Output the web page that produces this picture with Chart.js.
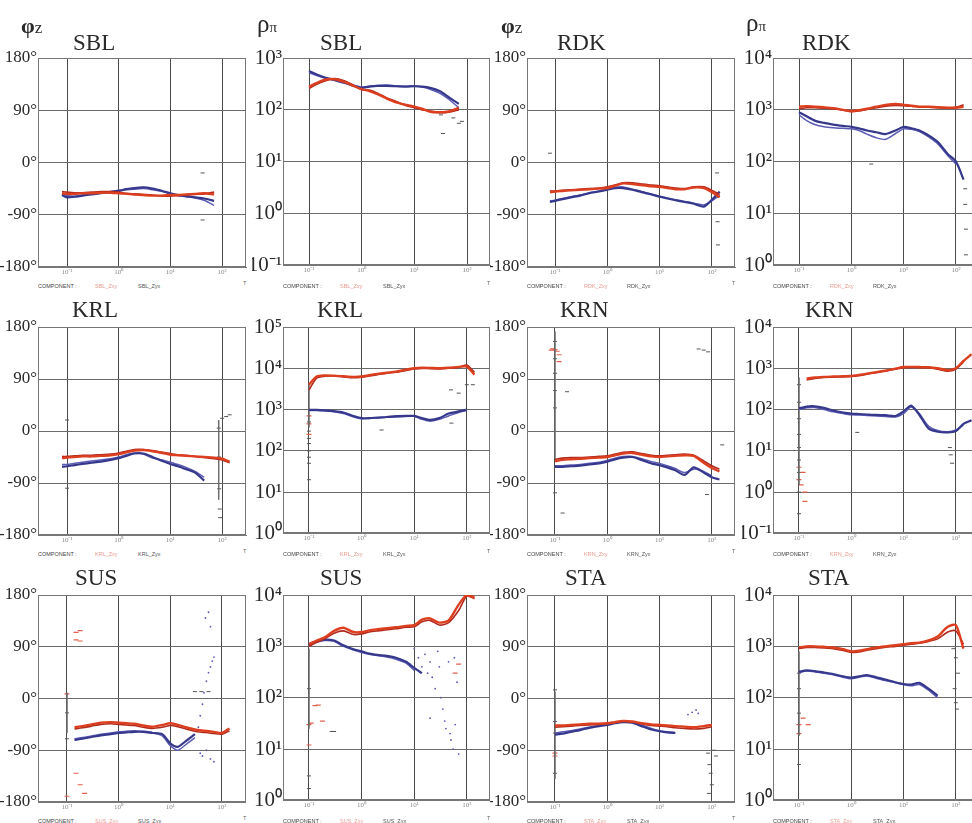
<!DOCTYPE html>
<html>
<head>
<meta charset="utf-8">
<script src="https://cdn.jsdelivr.net/npm/chart.js@4.4.1/dist/chart.umd.min.js"></script>
<style>
  html, body { margin: 0; padding: 0; background: #fff; overflow: hidden; width: 972px; height: 823px; }
  #wrap { position: relative; width: 972px; height: 823px; overflow: hidden; }
  canvas { position: absolute; }
  .lbl { position: absolute; white-space: nowrap; color: #2a2a2a; font-family: 'Liberation Serif', serif; line-height: 1; }
  .leg { position: absolute; white-space: nowrap; font-family: 'Liberation Sans', sans-serif; font-size: 5.5px; line-height: 1; color: #555; }
</style>
</head>
<body>
<div id="wrap"></div>
<script>
// Period samples shared by all sounding curves (s)
const periods = [0.08, 0.1, 0.14, 0.2, 0.3, 0.45, 0.7, 1, 1.4, 2, 3, 4.5, 7, 10, 14, 20, 30, 45, 70, 100, 140, 200];

// Axis tick values
const periodTicks = [0.1, 1, 10, 100];
const phaseTicks = [-180, -90, 0, 90, 180];
const sblRhoTicks = [0.1, 1, 10, 100, 1000];
const rdkRhoTicks = [1, 10, 100, 1000, 10000];
const krlRhoTicks = [1, 10, 100, 1000, 10000, 100000];
const krnRhoTicks = [0.1, 1, 10, 100, 1000, 10000];
const susRhoTicks = [1, 10, 100, 1000, 10000];
const staRhoTicks = [1, 10, 100, 1000, 10000];

// ---- SBL ----
const sblPhaseXY  = [-53,-54,-54,-53,-53,-52,-52,-53,-54,-55,-56,-57,-57,-56,-56,-55,-54,-53,-55];
const sblPhaseXY2 = [-50,-51,-52,-52,-51,-50,-50,-51,-53,-54,-55,-56,-58,-58,-57,-56,-55,-54,-51];
const sblPhaseYX  = [-56,-60,-59,-57,-55,-53,-51,-49,-46,-44,-43,-45,-49,-53,-56,-58,-60,-62,-66];
const sblPhaseYX2 = [-54,-57,-58,-56,-54,-52,-50,-48,-47,-46,-45,-47,-50,-54,-57,-59,-61,-65,-74];
const sblPhaseDots = [[42,-18],[42,-99]];
const sblRhoXY  = [null,280,330,380,390,350,290,250,230,200,165,140,125,115,105,92,90,93,110];
const sblRhoXY2 = [null,260,310,360,400,370,300,245,240,210,170,145,120,110,100,95,88,90,100];
const sblRhoYX  = [null,560,480,420,380,340,290,265,280,290,290,285,280,285,280,265,230,175,130];
const sblRhoYX2 = [null,520,460,410,370,330,300,275,285,295,300,290,285,290,275,250,210,160,110];
const sblRhoDots = [[32,80],[35,35],[55,70],[70,55],[80,60]];

// ---- RDK ----
const rdkPhaseXY  = [-51,-50,-49,-48,-47,-46,-45,-44,-40,-36,-37,-39,-41,-42,-44,-46,-46,-43,-44,-51,-60];
const rdkPhaseXY2 = [-49,-49,-48,-47,-46,-45,-44,-42,-39,-35,-35,-37,-39,-40,-42,-44,-45,-42,-42,-48,-55];
const rdkPhaseYX  = [-68,-66,-63,-60,-57,-53,-50,-47,-44,-44,-47,-51,-55,-59,-62,-65,-68,-71,-76,-64,-50];
const rdkPhaseYX2 = [-66,-65,-62,-59,-56,-52,-49,-46,-43,-42,-46,-50,-55,-58,-61,-64,-67,-70,-73,-66,-56];
const rdkPhaseDots = [[0.08,16],[125,-18],[125,-60],[128,-102],[130,-142]];
const rdkRhoXY  = [null,1150,1180,1150,1120,1080,1000,950,980,1050,1150,1250,1300,1250,1200,1150,1150,1120,1100,1100,1150];
const rdkRhoXY2 = [null,1050,1100,1100,1080,1050,980,920,950,1020,1100,1180,1220,1200,1180,1130,1120,1100,1080,1120,1250];
const rdkRhoYX  = [null,900,750,620,560,520,490,470,440,400,370,340,400,470,440,400,320,240,140,100,45];
const rdkRhoYX2 = [null,800,620,520,470,450,440,430,400,340,290,270,350,430,420,380,300,220,130,90];
const rdkRhoDots = [[150,30],[150,15],[155,5],[155,1.6],[2.4,90]];

// ---- KRL ----
const krlPhaseXY  = [-47,-46,-45,-44,-44,-43,-42,-40,-37,-34,-33,-35,-38,-41,-42,-43,-44,-45,-46,-48,-53];
const krlPhaseXY2 = [-44,-44,-43,-42,-42,-41,-40,-38,-35,-32,-32,-34,-37,-39,-41,-42,-44,-46,-48,-50,-55];
const krlPhaseYX  = [-62,-61,-59,-57,-55,-53,-50,-47,-43,-39,-39,-45,-52,-57,-61,-66,-72,-86];
const krlPhaseYX2 = [-58,-58,-56,-54,-52,-50,-48,-45,-41,-38,-40,-47,-50,-54,-58,-63,-70,-80];
const krlPhaseDots = [[0.1,19],[0.1,-99],[86,5],[87,-45],[88,-100],[90,-135],[92,-150],[100,22],[120,25],[140,28]];
const krlPhaseJump = [[86,19],[86,-119]];
const krlRhoXY  = [null,4000,6300,6700,6600,6400,6200,6300,6800,7300,7800,8300,9300,10000,10300,10200,10000,10300,10800,11000,7000];
const krlRhoXY2 = [null,3000,5800,6400,6500,6200,5900,6100,6500,7000,7600,8000,8800,9600,9900,9800,9700,10000,10500,12000,8000];
const krlRhoYX  = [null,980,980,960,920,850,700,620,620,640,660,690,700,700,620,560,620,800,900,1000];
const krlRhoYX2 = [null,950,950,930,880,800,660,600,610,630,650,660,680,690,580,520,580,700,850,950];
const krlRhoDots = [[0.1,500],[0.1,300],[0.1,200],[0.1,150],[0.1,100],[0.1,70],[0.1,50],[0.1,20],[50,3000],[70,2500],[100,4000],[130,4000],[2.4,320],[51,470]];
const krlRhoRedDots = [[0.1,700],[0.1,450],[0.1,250]];
const krlRhoJump = [[0.1,4400],[0.1,370]];

// ---- KRN ----
const krnPhaseXY  = [null,-52,-50,-49,-48,-47,-46,-45,-42,-39,-38,-41,-44,-45,-44,-43,-42,-43,-55,-64,-70];
const krnPhaseXY2 = [null,-49,-47,-46,-46,-45,-44,-43,-40,-37,-36,-39,-42,-43,-42,-41,-40,-42,-52,-60,-66];
const krnPhaseYX  = [null,-62,-62,-61,-60,-58,-56,-53,-49,-46,-45,-50,-56,-59,-63,-68,-76,-63,-72,-80,-84];
const krnPhaseYX2 = [null,-60,-60,-59,-58,-56,-54,-51,-47,-44,-44,-48,-53,-56,-60,-65,-72,-66,-70,-78];
const krnPhaseDots = [[0.1,155],[0.1,125],[0.1,100],[0.1,70],[0.1,40],[0.1,-107],[0.14,-142],[0.17,68],[56,142],[70,140],[85,137],[81,-110],[158,-24]];
const krnPhaseRedDots = [[0.085,140],[0.09,142],[0.1,141],[0.11,138],[0.12,132],[0.12,120]];
const krnPhaseJump = [[0.1,172],[0.1,-48]];
const krnRhoXY  = [null,null,560,600,620,630,640,650,690,740,810,880,980,1070,1080,1070,1060,1000,900,1000,1500,2200];
const krnRhoXY2 = [null,null,520,570,600,610,620,630,660,720,780,850,950,1030,1050,1040,1030,950,850,950,1400];
const krnRhoYX  = [null,107,118,120,110,95,85,80,78,76,74,73,70,90,125,75,35,29,28,30,45,55];
const krnRhoYX2 = [null,100,110,112,100,88,80,75,74,72,70,68,66,80,115,80,40,31,29,32,42];
const krnRhoDots = [[0.1,400],[0.1,150],[0.1,60],[0.1,25],[0.1,12],[0.1,6],[0.1,3],[0.1,1],[0.1,0.3],[1.3,28],[77,12],[80,8],[85,5]];
const krnRhoRedDots = [[0.1,4],[0.1,2],[0.11,1.5],[0.12,3],[0.13,1],[0.13,0.6]];
const krnRhoJump = [[0.1,600],[0.1,1.5]];

// ---- SUS ----
const susPhaseXY  = [null,null,-50,-48,-45,-42,-41,-42,-43,-44,-47,-49,-46,-43,-46,-50,-54,-56,-58,-60,-52];
const susPhaseXY2 = [null,null,-53,-51,-48,-45,-44,-45,-46,-47,-50,-52,-50,-47,-49,-53,-57,-59,-61,-62,-56];
const susPhaseYX  = [null,null,-72,-70,-67,-64,-62,-60,-59,-58,-58,-60,-62,-78,-84,-74,-62];
const susPhaseYX2 = [null,null,-70,-68,-65,-62,-60,-58,-57,-56,-57,-59,-65,-82,-90,-80,-68];
const susPhaseDots = [[30,12],[40,12],[55,12],[0.1,-25],[0.1,-70]];
const susPhaseBlueDots = [[35,-50],[38,-30],[42,-10],[45,10],[50,30],[55,45],[60,55],[65,65],[70,72],[48,140],[55,150],[60,125],[38,-95],[42,-100],[50,-90],[60,-105],[70,-110]];
const susPhaseRedDots = [[0.15,115],[0.18,118],[0.15,102],[0.18,100],[0.15,-130],[0.18,-150],[0.22,-165],[0.1,-170],[0.1,8]];
const susPhaseJump = [[0.1,10],[0.1,-60]];
const susRhoXY  = [null,1100,1300,1500,2000,2300,1900,1900,2050,2150,2250,2350,2500,2600,3300,3500,2900,3200,6500,10000,9000];
const susRhoXY2 = [null,1000,1200,1400,1800,2000,1700,1750,1900,2000,2100,2200,2350,2400,3000,3200,2600,2900,5000,9500,8500];
const susRhoYX  = [null,1100,1250,1350,1300,1050,880,800,720,680,650,600,500,380,300];
const susRhoYX2 = [null,1050,1200,1300,1250,1000,850,760,700,660,620,560,470,340];
const susRhoDots = [[0.1,150],[0.1,3],[0.1,1.7],[0.27,22],[0.3,22]];
const susRhoBlueDots = [[10,900],[12,600],[14,400],[16,700],[18,300],[20,500],[22,250],[25,150],[28,800],[30,400],[32,100],[35,60],[38,35],[40,25],[45,500],[48,20],[50,15],[55,10],[58,600],[60,30],[65,200],[70,8],[20,40]];
const susRhoRedDots = [[0.1,30],[0.11,32],[0.13,70],[0.15,72],[0.18,35],[0.1,12],[60,300],[70,450]];
const susRhoJump = [[0.1,900],[0.1,25]];

// ---- STA ----
const staPhaseXY  = [null,-47,-47,-46,-45,-44,-44,-43,-41,-39,-40,-43,-45,-46,-47,-48,-49,-50,-48,-46];
const staPhaseXY2 = [null,-50,-49,-48,-47,-46,-45,-44,-42,-40,-41,-44,-47,-48,-49,-51,-52,-53,-52,-49];
const staPhaseYX  = [null,-63,-61,-58,-55,-51,-48,-46,-43,-41,-42,-48,-54,-57,-59,-60];
const staPhaseYX2 = [null,-60,-58,-56,-53,-50,-47,-45,-42,-40,-41,-46,-52,-56,-58,-59];
const staPhaseDots = [[0.1,15],[0.1,-40],[0.1,-60],[0.1,-130],[85,-95],[90,-115],[95,-130],[100,-150],[88,-165],[110,-90],[120,-100]];
const staPhaseBlueDots = [[35,-28],[42,-24],[50,-20],[55,-26]];
const staPhaseRedDots = [[0.1,-95],[0.1,-100]];
const staPhaseJump = [[0.1,12],[0.1,-140]];
const staRhoXY  = [null,950,1000,1000,980,950,880,800,820,880,950,1000,1050,1100,1150,1180,1300,1550,2400,2600,900];
const staRhoXY2 = [null,900,950,950,930,900,830,760,780,840,900,960,1000,1050,1100,1150,1250,1400,1900,2000,1100];
const staRhoYX  = [null,320,340,330,310,290,260,245,260,275,250,225,200,185,180,195,150,110];
const staRhoYX2 = [null,310,330,320,300,280,250,235,250,265,240,215,195,178,170,180,140,100];
const staRhoDots = [[0.1,50],[0.1,5],[0.1,300],[0.1,150],[90,900],[100,600],[110,300],[95,150],[100,80],[105,60]];
const staRhoRedDots = [[0.1,30],[0.1,20],[0.12,40],[0.15,30]];
const staRhoJump = [[0.1,800],[0.1,18]];

// ---- page geometry: plot-area edges of every column and row ----
const cols = [
  { left: 38,  right: 246, yw: 38, grid: 67,  dec: 51.7 },
  { left: 283, right: 490, yw: 31, grid: 309, dec: 52.67 },
  { left: 527, right: 735, yw: 37, grid: 555, dec: 52.33 },
  { left: 773, right: 975, yw: 31, grid: 799, dec: 52.33 }
];
const rows = [
  { top: 58,  bottom: 267 },
  { top: 327, bottom: 535 },
  { top: 595, bottom: 802 }
];

const panels = [
  { row:0, col:0, stn:'SBL', ticks:phaseTicks, xy:[sblPhaseXY,sblPhaseXY2], yx:[sblPhaseYX,sblPhaseYX2], dark:sblPhaseDots },
  { row:0, col:1, stn:'SBL', ticks:sblRhoTicks, xy:[sblRhoXY,sblRhoXY2], yx:[sblRhoYX,sblRhoYX2], dark:sblRhoDots },
  { row:0, col:2, stn:'RDK', ticks:phaseTicks, xy:[rdkPhaseXY,rdkPhaseXY2], yx:[rdkPhaseYX,rdkPhaseYX2], dark:rdkPhaseDots },
  { row:0, col:3, stn:'RDK', ticks:rdkRhoTicks, xy:[rdkRhoXY,rdkRhoXY2], yx:[rdkRhoYX,rdkRhoYX2], dark:rdkRhoDots },
  { row:1, col:0, stn:'KRL', ticks:phaseTicks, xy:[krlPhaseXY,krlPhaseXY2], yx:[krlPhaseYX,krlPhaseYX2], dark:krlPhaseDots, jump:krlPhaseJump },
  { row:1, col:1, stn:'KRL', ticks:krlRhoTicks, xy:[krlRhoXY,krlRhoXY2], yx:[krlRhoYX,krlRhoYX2], dark:krlRhoDots, red:krlRhoRedDots, jump:krlRhoJump },
  { row:1, col:2, stn:'KRN', ticks:phaseTicks, xy:[krnPhaseXY,krnPhaseXY2], yx:[krnPhaseYX,krnPhaseYX2], dark:krnPhaseDots, red:krnPhaseRedDots, jump:krnPhaseJump },
  { row:1, col:3, stn:'KRN', ticks:krnRhoTicks, xy:[krnRhoXY,krnRhoXY2], yx:[krnRhoYX,krnRhoYX2], dark:krnRhoDots, red:krnRhoRedDots, jump:krnRhoJump },
  { row:2, col:0, stn:'SUS', ticks:phaseTicks, xy:[susPhaseXY,susPhaseXY2], yx:[susPhaseYX,susPhaseYX2], dark:susPhaseDots, red:susPhaseRedDots, blue:susPhaseBlueDots, jump:susPhaseJump },
  { row:2, col:1, stn:'SUS', ticks:susRhoTicks, xy:[susRhoXY,susRhoXY2], yx:[susRhoYX,susRhoYX2], dark:susRhoDots, red:susRhoRedDots, blue:susRhoBlueDots, jump:susRhoJump },
  { row:2, col:2, stn:'STA', ticks:phaseTicks, xy:[staPhaseXY,staPhaseXY2], yx:[staPhaseYX,staPhaseYX2], dark:staPhaseDots, red:staPhaseRedDots, blue:staPhaseBlueDots, jump:staPhaseJump },
  { row:2, col:3, stn:'STA', ticks:staRhoTicks, xy:[staRhoXY,staRhoXY2], yx:[staRhoYX,staRhoYX2], dark:staRhoDots, red:staRhoRedDots, jump:staRhoJump }
];
// station-name headings (left, cap top)
const titlePos = [[73,35],[320,35],[557,35],[802,35],[72,302],[317,302],[560,302],[805,302],[75,570],[320,570],[565,570],[808,570]];

const SUP = {'-':'⁻','0':'⁰','1':'¹','2':'²','3':'³','4':'⁴','5':'⁵','6':'⁶','7':'⁷','8':'⁸','9':'⁹'};
function powLabel(v) {
  const e = Math.round(Math.log10(v));
  return '10' + String(e).split('').map(ch => SUP[ch]).join('');
}
function series(vals) {
  const out = [];
  vals.forEach((v, i) => { if (v != null) out.push({ x: periods[i], y: v }); });
  return out;
}
function pts(arr) { return (arr || []).map(([x, y]) => ({ x, y })); }

// closes the plot box on the top and right sides
const framePlugin = {
  id: 'frame',
  beforeDatasetsDraw(chart) {
    const a = chart.chartArea, c = chart.ctx;
    c.save();
    c.strokeStyle = '#777';
    c.lineWidth = 1;
    c.strokeRect(Math.round(a.left) + 0.5, Math.round(a.top) + 0.5, Math.round(a.right - a.left) - 1, Math.round(a.bottom - a.top) - 1);
    c.restore();
  }
};

const wrap = document.getElementById('wrap');
const PAD_T = 14, PAD_L = 8, PAD_R = 5, XH = 12;

function addDiv(cls, html, left, top, style) {
  const d = document.createElement('div');
  d.className = cls;
  d.innerHTML = html;
  d.style.left = left + 'px';
  d.style.top = top + 'px';
  if (style) Object.assign(d.style, style);
  wrap.appendChild(d);
  return d;
}

panels.forEach((p, idx) => {
  const cg = cols[p.col], rg = rows[p.row];
  const isPhase = p.ticks === phaseTicks;
  const cv = document.createElement('canvas');
  const w = PAD_L + cg.yw + (cg.right - cg.left) + PAD_R;
  const h = PAD_T + (rg.bottom - rg.top) + XH;
  cv.width = w; cv.height = h;
  cv.style.width = w + 'px'; cv.style.height = h + 'px';
  cv.style.left = (cg.left - cg.yw - PAD_L) + 'px';
  cv.style.top = (rg.top - PAD_T) + 'px';
  wrap.appendChild(cv);

  const xmin = Math.pow(10, -1 - (cg.grid - cg.left) / cg.dec);
  const xmax = Math.pow(10, -1 + (cg.right - cg.grid) / cg.dec);

  const datasets = [];
  p.xy.forEach((v, k) => datasets.push({
    data: series(v), showLine: true, borderColor: k ? '#b02a1c' : '#dc3f1f',
    borderWidth: k ? 1.6 : 2.4, pointRadius: 0, tension: 0.25, order: 1
  }));
  p.yx.forEach((v, k) => datasets.push({
    data: series(v), showLine: true, borderColor: k ? '#5d5cb6' : '#36388c',
    borderWidth: k ? 1.5 : 2.2, pointRadius: 0, tension: 0.25, order: 2
  }));
  if (p.jump) datasets.push({
    data: pts(p.jump), showLine: true, borderColor: '#666', borderWidth: 0.8, pointRadius: 0, order: 3
  });
  if (p.red) datasets.push({
    data: pts(p.red), showLine: false, pointStyle: 'line', pointRadius: 2.5,
    pointBorderColor: '#e0604c', pointBorderWidth: 1.2, order: 4
  });
  if (p.blue) datasets.push({
    data: pts(p.blue), showLine: false, pointRadius: 0.9,
    pointBackgroundColor: '#5a5ab4', pointBorderWidth: 0, order: 4
  });
  if (p.dark) datasets.push({
    data: pts(p.dark), showLine: false, pointStyle: 'line', pointRadius: 2,
    pointBorderColor: '#555', pointBorderWidth: 1, order: 4
  });

  const yScale = isPhase ? {
    type: 'linear', min: -180, max: 180,
    afterBuildTicks: s => { s.ticks = phaseTicks.map(v => ({ value: v })); },
    ticks: { callback: v => v + '°', font: { family: 'Liberation Serif', size: 17 }, color: '#2a2a2a', padding: 1 }
  } : {
    type: 'logarithmic', min: p.ticks[0], max: p.ticks[p.ticks.length - 1],
    afterBuildTicks: s => { s.ticks = p.ticks.map(v => ({ value: v })); },
    ticks: { callback: v => powLabel(v), font: { family: 'Liberation Serif', size: 21 }, color: '#2a2a2a', padding: 1 }
  };
  Object.assign(yScale, {
    grid: { color: '#6a6a6a', lineWidth: 1, drawTicks: false },
    border: { color: '#777' },
    afterFit: s => { s.width = cg.yw; }
  });

  new Chart(cv, {
    type: 'scatter',
    data: { datasets },
    options: {
      responsive: false,
      animation: false,
      events: [],
      layout: { padding: { top: PAD_T, left: PAD_L, right: PAD_R, bottom: 0 } },
      plugins: { legend: { display: false }, tooltip: { enabled: false } },
      scales: {
        x: {
          type: 'logarithmic', min: xmin, max: xmax,
          afterBuildTicks: s => { s.ticks = periodTicks.map(v => ({ value: v })); },
          ticks: { callback: v => powLabel(v), font: { family: 'Liberation Serif', size: 7 }, color: '#888', padding: 1, maxRotation: 0, autoSkip: false },
          grid: { color: '#4a4a4a', lineWidth: 1, drawTicks: false },
          border: { color: '#777' },
          afterFit: s => { s.height = XH; }
        },
        y: yScale
      }
    },
    plugins: [framePlugin]
  });

  // heading, legend line and period-axis letter
  const [tl, tt] = titlePos[idx];
  addDiv('lbl', p.stn, tl, tt - 4, { fontSize: '23px' });
  const ly = rg.bottom + 17;
  addDiv('leg', 'COMPONENT :', cg.left, ly, { color: '#444' });
  addDiv('leg', p.stn + '_Zxy', cg.left + 57, ly, { color: '#e79a90' });
  addDiv('leg', p.stn + '_Zyx', cg.left + 100, ly, { color: '#555' });
  addDiv('leg', 'T', cg.right - 3, ly - 3, { color: '#666' });
});

// quantity symbols above the top row
addDiv('lbl', '<b>φ</b><span style="font-size:17px">z</span>', 21, 15, { fontSize: '22px' });
addDiv('lbl', '<b>φ</b><span style="font-size:17px">z</span>', 501, 15, { fontSize: '22px' });
addDiv('lbl', 'ρ<span style="font-size:15px">π</span>', 257, 11, { fontSize: '25px' });
addDiv('lbl', 'ρ<span style="font-size:15px">π</span>', 746, 10, { fontSize: '25px' });
</script>
</body>
</html>
